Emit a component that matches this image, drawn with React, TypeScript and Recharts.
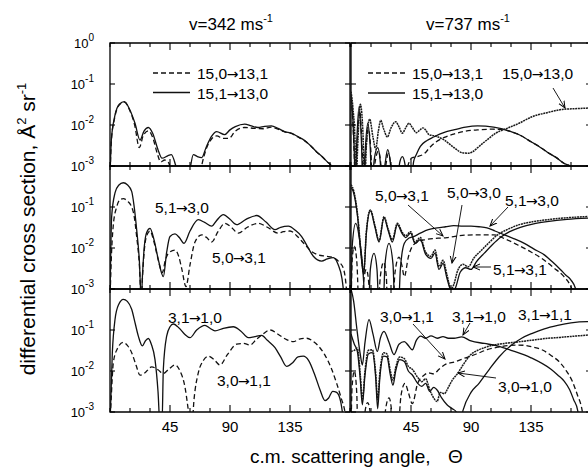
import React from 'react';
import { LineChart, Line, XAxis, YAxis, ReferenceArea } from 'recharts';

const FONT = '"Liberation Sans", Arial, Helvetica, sans-serif';
const PW = 240; // plot width, px
const PH = 123; // plot height, px (three decades)

const ANGLE_TICKS = [0, 15, 30, 45, 60, 75, 90, 105, 120, 135, 150, 165, 180];
const MAJOR_ANGLES = [45, 90, 135];
const DECADES = [0.001, 0.01, 0.1, 1];

// [angle (deg), cross section]
// v = 342 m/s
const v342_15_0_to_13_1 = [
  [0, 5e-4], [1, 4e-3], [3.5, 1.5e-2], [7, 3.1e-2], [10.8, 3.6e-2], [14.5, 2.4e-2], [18.5, 1.0e-2], [22, 2.8e-3],
  [25, 5.6e-3], [28.75, 7.2e-3], [32, 5e-3], [35.5, 2e-3], [38, 1.26e-3], [41, 1.4e-3], [44, 1.2e-3], [46, 7e-4],
  [50, 3e-4], [66, 3e-4], [69, 1.1e-3], [72, 2.5e-3], [76, 4.5e-3], [80, 5.4e-3], [85, 4.7e-3], [89, 4.7e-3],
  [94, 7.1e-3], [101, 8.7e-3], [108, 8.3e-3], [115, 8.1e-3], [121, 8.9e-3], [126, 7.9e-3], [131, 6.8e-3],
  [136, 6.2e-3], [141, 5.1e-3], [146, 4.1e-3], [151, 3.0e-3], [155, 2.2e-3], [159, 1.7e-3], [163, 1.25e-3],
  [166, 1e-3], [168, 5e-4],
];
const v342_15_1_to_13_0 = [
  [0, 5e-4], [1, 4.3e-3], [3.5, 1.6e-2], [7, 3.2e-2], [10.8, 3.7e-2], [14.5, 2.5e-2], [18.75, 1.1e-2], [22.5, 4.3e-3],
  [25.5, 7.1e-3], [28.75, 8.7e-3], [32, 6.3e-3], [36, 2.5e-3], [39, 1.55e-3], [43, 1.75e-3], [46, 1.9e-3],
  [49, 1.1e-3], [51, 6e-4], [53, 3e-4], [58, 3e-4], [60, 8e-4], [62.5, 1.9e-3], [65.5, 1.7e-3], [68.75, 1.6e-3],
  [72, 2.8e-3], [76, 5.2e-3], [80, 6.9e-3], [86, 5.8e-3], [90, 7.6e-3], [94, 9.1e-3], [101, 1.05e-2], [106, 9.5e-3],
  [111, 8.7e-3], [116, 9.3e-3], [121, 9.5e-3], [126, 8.3e-3], [131, 6.9e-3], [136, 6.3e-3], [141, 5.2e-3],
  [146, 4.2e-3], [151, 3.0e-3], [155, 2.2e-3], [159, 1.7e-3], [163, 1.26e-3], [166, 1e-3], [168, 5e-4],
];
const v342_5_1_to_3_0 = [
  [0, 5e-4], [1.25, 5.9e-2], [3.75, 2.2e-1], [6.5, 3.4e-1], [10, 3.9e-1], [13, 3.5e-1], [16.25, 2.4e-1], [18, 1.1e-1],
  [20, 2.8e-2], [22, 5e-3], [23.5, 5e-4], [24.3, 2e-3], [25.75, 1.1e-2], [27.5, 2.4e-2], [30, 3e-2], [33, 1.6e-2],
  [36.25, 5.2e-3], [40, 2e-3], [42.5, 7.9e-3], [45, 1.9e-2], [48.75, 2.2e-2], [52, 1.8e-2], [55.5, 1.3e-2],
  [60, 2.6e-2], [66.25, 4.9e-2], [71, 4.2e-2], [76.25, 3.4e-2], [80, 4.7e-2], [85, 6.5e-2], [90, 5e-2], [95, 3.7e-2],
  [102, 5e-2], [110, 6.2e-2], [117, 4.3e-2], [123.75, 2.8e-2], [128, 3.2e-2], [133.75, 3.4e-2], [139, 2.7e-2],
  [143.75, 1.9e-2], [148, 1.1e-2], [152.5, 6.3e-3], [158.75, 4.8e-3], [163, 5.4e-3], [167.5, 5.8e-3], [171, 4e-3],
  [174, 1.8e-3], [176, 5e-4],
];
const v342_5_0_to_3_1 = [
  [0, 5e-4], [0.8, 3.8e-3], [2.5, 3.7e-2], [5, 1e-1], [7.5, 1.5e-1], [10, 1.6e-1], [13, 1.4e-1], [16.25, 1e-1],
  [18, 6.3e-2], [20, 1.9e-2], [22, 4e-3], [23.5, 5e-4], [24.3, 1.8e-3], [25.75, 9e-3], [27.5, 2e-2], [30, 2.6e-2],
  [33, 1.4e-2], [36.25, 5e-3], [39.25, 2.5e-3], [41.5, 5e-3], [43.75, 7.4e-3], [48.75, 8.9e-3], [51.5, 6.3e-3],
  [53.75, 3.2e-3], [57, 1.15e-3], [60, 3.9e-3], [63.75, 1.4e-2], [68.75, 2.1e-2], [72.5, 1.8e-2], [76.25, 1.4e-2],
  [81, 2.5e-2], [86.25, 4e-2], [91, 3.2e-2], [96.25, 2.3e-2], [103, 3.2e-2], [111.25, 4e-2], [118, 3.2e-2],
  [126.25, 2.3e-2], [130, 2.5e-2], [135, 2.6e-2], [140, 2e-2], [146.25, 1.2e-2], [151, 8.3e-3], [156.25, 6.8e-3],
  [162, 6.3e-3], [167.5, 5.8e-3], [172, 4.5e-3], [175, 3.2e-3], [177, 1.3e-3], [178, 5e-4],
];
const v342_3_1_to_1_0 = [
  [0, 5e-4], [1.75, 2.8e-2], [3.75, 1.8e-1], [6.5, 4.2e-1], [10, 5.6e-1], [13, 5e-1], [16.25, 3.2e-1], [19, 1.4e-1],
  [21.25, 7.1e-2], [24.25, 4.1e-2], [26.5, 5.4e-2], [28.75, 6.2e-2], [31, 4.5e-2], [33.75, 1.9e-2], [36, 3.2e-3],
  [37.5, 5e-4], [39, 5e-4], [40, 1.1e-2], [42.5, 7.1e-2], [45, 1.2e-1], [47.5, 1.4e-1], [52, 1.1e-1], [56, 7.9e-2],
  [60, 6.5e-2], [65, 1e-1], [71.25, 1.3e-1], [75, 1.1e-1], [78.75, 9.5e-2], [85, 1.1e-1], [92.5, 1.2e-1],
  [98, 9.5e-2], [103.75, 6.5e-2], [108, 6.8e-2], [113.75, 7.4e-2], [118, 5.6e-2], [123.75, 3.7e-2], [128, 2.2e-2],
  [132.5, 1.3e-2], [137, 1.6e-2], [141, 2.2e-2], [145, 2.3e-2], [149, 1.8e-2], [153.75, 7.8e-3], [157.5, 3.5e-3],
  [161.25, 1.9e-3], [164, 2.2e-3], [167, 3.2e-3], [170, 3e-3], [173, 1.8e-3], [175.5, 5e-4],
];
const v342_3_0_to_1_1 = [
  [0, 5e-4], [1, 2.5e-3], [2.5, 1.6e-2], [5.5, 3.5e-2], [10, 5e-2], [13, 4.2e-2], [16.25, 2.8e-2], [19.5, 1.4e-2],
  [22.5, 7.9e-3], [26, 8.9e-3], [31.25, 1.26e-2], [36, 1.07e-2], [40, 8.7e-3], [44, 1.1e-2], [48.75, 1.4e-2],
  [52.5, 1e-2], [56.25, 4e-3], [58.5, 1.26e-3], [60, 5e-4], [61.5, 5e-4], [63, 2e-3], [66.25, 9.1e-3], [70, 1.8e-2],
  [73.75, 2.3e-2], [78, 1.9e-2], [82.5, 1.4e-2], [88, 2.5e-2], [95, 4.5e-2], [100, 4.7e-2], [105, 4.3e-2],
  [110, 6e-2], [114, 7.6e-2], [120, 1e-1], [126, 7.9e-2], [132.5, 5.8e-2], [137.5, 5.2e-2], [142, 6e-2],
  [147.5, 6.3e-2], [152, 5.4e-2], [156.25, 4.1e-2], [161, 2.5e-2], [166.25, 1.1e-2], [170, 5e-3], [173.75, 2e-3],
  [176, 1.1e-3], [177.5, 5e-4],
];

// v = 737 m/s
const v737_15_0_to_13_1 = [
  [0, 4.5e-2], [1.2, 1.5e-2], [2.6, 1.2e-3], [3.2, 3e-4], [4.5, 3e-3], [6.5, 2.2e-2], [8.3, 3e-3], [9.5, 3e-4],
  [11, 2e-3], [13, 8e-3], [15, 2e-3], [16, 3e-4], [18, 1.2e-3], [20.5, 2.3e-3], [22.5, 1e-3], [23.5, 3e-4],
  [26, 1e-3], [28, 2e-3], [30, 1e-3], [31.5, 3e-4], [41, 3e-4], [43, 1.1e-3], [46, 1.6e-3], [50, 1.7e-3],
  [55, 2e-3], [59, 2.8e-3], [63, 3.7e-3], [70, 5e-3], [77, 6e-3], [86, 7.1e-3], [95, 7.6e-3], [105, 7.9e-3],
  [113, 7.8e-3], [120, 6.9e-3], [128, 5.4e-3], [135, 3.9e-3], [141, 3e-3], [147, 2.2e-3], [154, 1.6e-3],
  [160, 1.15e-3], [164, 1e-3], [166, 5e-4],
];
const v737_15_1_to_13_0 = [
  [0, 5.5e-2], [1.2, 1.8e-2], [2.6, 1.5e-3], [3.2, 3e-4], [4.2, 3e-3], [6, 2.8e-2], [7.8, 4e-3], [9, 3e-4],
  [10.5, 2e-3], [12.5, 1.1e-2], [14.5, 2.5e-3], [15.5, 3e-4], [17.5, 1.5e-3], [20, 2.8e-3], [22, 1.2e-3],
  [23, 3e-4], [25.5, 1.1e-3], [27.5, 2.5e-3], [29.5, 1.2e-3], [31, 3e-4], [34.5, 3e-4], [36.5, 1.2e-3],
  [38.5, 1.7e-3], [40.5, 1.1e-3], [42, 3e-4], [45, 4e-4], [47, 1.3e-3], [49, 1.9e-3], [52, 3e-3], [57, 4.2e-3],
  [62, 5.1e-3], [70, 6.6e-3], [77, 7.6e-3], [86, 8.9e-3], [95, 9.5e-3], [107, 8.9e-3], [120, 6.9e-3],
  [128, 5.4e-3], [135, 3.9e-3], [141, 3e-3], [147, 2.2e-3], [154, 1.6e-3], [160, 1.15e-3], [164, 1e-3], [166, 5e-4],
];
const v737_15_0_to_13_0 = [
  [0, 6.5e-2], [1.5, 2.5e-2], [3, 4e-3], [3.8, 3e-4], [5, 3e-3], [7, 3.2e-2], [9, 6e-3], [10.2, 3e-4],
  [11.5, 3e-3], [14, 1.4e-2], [16.5, 5e-3], [18.5, 2.6e-3], [20.5, 7e-3], [22.3, 1.3e-2], [24.5, 8e-3],
  [27.25, 5.1e-3], [30, 8.5e-3], [33.5, 1.2e-2], [36, 9e-3], [38.5, 6.3e-3], [41, 8.5e-3], [43.5, 1.1e-2],
  [46, 8.7e-3], [49, 6.5e-3], [51.5, 7.5e-3], [54, 8.5e-3], [56, 7.5e-3], [58.5, 5.8e-3], [62, 5.5e-3],
  [66, 5e-3], [70, 4.3e-3], [73.5, 3.5e-3], [78, 2.7e-3], [83.5, 2.1e-3], [88, 2.05e-3], [91, 2.2e-3],
  [95, 2.8e-3], [98.5, 3.5e-3], [103, 4.6e-3], [108.5, 6.3e-3], [117, 8.3e-3], [126, 1.1e-2], [136, 1.6e-2],
  [147, 2.0e-2], [158.5, 2.4e-2], [168, 2.5e-2], [180, 2.6e-2],
];
const v737_5_0_to_3_1 = [
  [0, 3e-4], [1, 6e-3], [2.5, 1.1e-2], [4.5, 4e-3], [6, 3e-4], [8, 3e-4], [9.5, 1.5e-3], [11.5, 3e-3],
  [13.5, 1.2e-3], [14.5, 3e-4], [20, 3e-4], [22, 2e-3], [24.5, 4.5e-3], [26.5, 2e-3], [27.5, 3e-4], [31, 3e-4],
  [33, 2.5e-3], [36, 6e-3], [38, 4e-3], [40, 2e-3], [43, 6e-3], [46, 1.1e-2], [50, 1.4e-2], [56, 1.6e-2],
  [62, 1.7e-2], [67.5, 1.75e-2], [72, 1.8e-2], [77, 1.9e-2], [85, 2.05e-2], [95, 2.1e-2], [107, 2.1e-2],
  [115, 1.7e-2], [124.75, 1.2e-2], [135, 8e-3], [144.75, 5.1e-3], [152, 3.3e-3], [159.75, 2e-3], [164, 1.3e-3],
  [166, 9e-4], [167, 4e-4],
];
const v737_5_1_to_3_0 = [
  [0, 3e-4], [0.8, 1e-2], [3.5, 4e-2], [6.5, 1.5e-2], [9.5, 1.5e-3], [10.5, 3e-4], [13, 3e-4], [14.5, 3e-3],
  [17.25, 7.4e-3], [19.5, 3e-3], [21, 3e-4], [24, 3e-4], [25.5, 4e-3], [28.5, 1.3e-2], [31.5, 4e-3], [33, 3e-4],
  [35.5, 3e-4], [37, 3e-3], [40, 1.3e-2], [43.5, 1.75e-2], [47, 1.9e-2], [52, 2.3e-2], [58, 2.8e-2],
  [64.75, 3.1e-2], [71, 3.3e-2], [77, 3.5e-2], [84, 3.4e-2], [90, 3.4e-2], [96, 3.3e-2], [102, 3.1e-2],
  [108, 2.6e-2], [115, 2.1e-2], [122, 1.7e-2], [130, 1.3e-2], [137, 9.5e-3], [145, 6.8e-3], [151, 4.6e-3],
  [157, 3e-3], [161, 2.2e-3], [165, 1.65e-3], [168.5, 1e-3], [170, 5e-4],
];
const v737_5_0_to_3_0 = [
  [0, 3.5e-1], [2, 2.5e-1], [5, 6.3e-2], [7.5, 8e-3], [9.5, 2.5e-3], [11.5, 2.5e-2], [14.5, 8.5e-2], [18, 3.5e-2],
  [21, 1.5e-2], [24.75, 5.8e-2], [28, 2.8e-2], [31, 1.6e-2], [34.75, 4e-2], [38.5, 2.4e-2], [41, 2e-2],
  [44.75, 2.5e-2], [48, 1.4e-2], [52, 1.8e-2], [56, 7.9e-3], [60, 6.3e-3], [63, 8.9e-3], [66, 3.5e-3], [69, 5e-3],
  [72, 2.2e-3], [75, 1e-3], [77, 1.26e-3], [80, 2.8e-3], [84, 4e-3], [88, 3.5e-3], [92, 5.6e-3], [98, 8.9e-3],
  [104, 1.4e-2], [110, 2.1e-2], [117, 2.8e-2], [125, 3.6e-2], [135, 4.3e-2], [145, 4.8e-2], [160, 5.4e-2],
  [180, 5.9e-2],
];
const v737_5_1_to_3_1 = [
  [0, 3e-1], [2, 2.2e-1], [5, 5.5e-2], [7.5, 7e-3], [9.5, 2.2e-3], [11.5, 2.2e-2], [14.5, 8e-2], [18, 3.2e-2],
  [21, 1.4e-2], [24.75, 5.4e-2], [28, 2.6e-2], [31, 1.4e-2], [34.75, 3.7e-2], [38.5, 2.2e-2], [41, 1.8e-2],
  [44.75, 2.3e-2], [48, 1.3e-2], [52, 1.6e-2], [56, 7e-3], [60, 5.6e-3], [63, 7.5e-3], [66, 3e-3], [69, 4.2e-3],
  [72, 1.8e-3], [76, 8e-4], [78.5, 1.1e-3], [82, 2.6e-3], [86, 3.3e-3], [90, 3e-3], [94, 4.6e-3], [100, 7.5e-3],
  [106, 1.2e-2], [112, 1.8e-2], [119, 2.5e-2], [127, 3.2e-2], [137, 3.9e-2], [147, 4.4e-2], [162, 5e-2],
  [180, 5.4e-2],
];
const v737_3_0_to_1_1 = [
  [0, 3e-4], [0.8, 4e-3], [2.5, 1e-2], [4.3, 3e-3], [5.2, 3e-4], [9, 3e-4], [10.5, 1e-3], [12.5, 1.7e-3],
  [14.5, 9e-4], [15.5, 3e-4], [24, 3e-4], [26, 1.2e-3], [28.5, 2.2e-3], [30.5, 1e-3], [31.5, 3e-4], [35, 3e-4],
  [37.5, 2.5e-3], [40.5, 5e-3], [43, 3e-3], [46, 1.6e-3], [50, 5e-3], [55, 8e-3], [58, 9e-3], [62, 8.5e-3],
  [66, 1.1e-2], [70, 1.4e-2], [78.5, 1.7e-2], [86, 2.1e-2], [94, 2.6e-2], [102, 3.3e-2], [110, 3.8e-2],
  [118, 4.2e-2], [125, 4.3e-2], [131, 4.2e-2], [137, 3.8e-2], [144, 3.2e-2], [150, 2.4e-2], [156, 1.7e-2],
  [161, 1.07e-2], [166, 5.6e-3], [170, 2.5e-3], [173, 1.26e-3], [175, 5e-4],
];
const v737_3_1_to_1_0 = [
  [0, 1], [2, 5e-1], [4.5, 1e-1], [7, 2.5e-2], [8.5, 1.4e-2], [10.5, 5e-2], [13.5, 1.8e-1], [16.5, 7.9e-2],
  [19.75, 3e-2], [22, 6.3e-2], [24.75, 9.3e-2], [28.5, 5e-2], [32.25, 2.5e-2], [36, 4.5e-2], [40, 5.2e-2],
  [43, 4.2e-2], [46, 3.3e-2], [49, 5.6e-2], [52.25, 7.1e-2], [56, 6.3e-2], [60, 7.2e-2], [64.75, 6.3e-2],
  [69, 6.9e-2], [73, 6.3e-2], [77.25, 6.3e-2], [83, 6.8e-2], [90, 5.4e-2], [100, 4.7e-2], [111, 4e-2],
  [120, 3.2e-2], [135, 2.1e-2], [150, 1.1e-2], [155, 8e-3], [160, 5.6e-3], [164, 3.5e-3], [167, 2e-3],
  [170, 1.1e-3], [171.5, 5e-4],
];
const v737_3_0_to_1_0 = [
  [0, 3e-2], [2.5, 3.2e-2], [4.75, 3.6e-2], [7, 8e-3], [8.5, 2e-3], [10.5, 1e-2], [13, 3.2e-2], [16, 3.3e-2],
  [18.5, 9e-3], [20, 2e-3], [21.5, 8e-3], [24.5, 2.8e-2], [27, 2.6e-2], [29.5, 1e-2], [31.5, 6e-3], [33.5, 1.2e-2],
  [36.5, 2.2e-2], [40, 2e-2], [43, 1.3e-2], [46, 1.1e-2], [50, 7e-3], [53, 5.5e-3], [56, 6.5e-3], [59, 3.5e-3],
  [62, 2.2e-3], [64.5, 1.8e-3], [67, 3e-3], [70, 2.8e-3], [73, 4e-3], [76, 6e-3], [79.75, 8.5e-3], [84, 1.4e-2],
  [89.75, 2.5e-2], [95, 3.2e-2], [100, 3.7e-2], [107, 4.3e-2], [115, 4.7e-2], [125, 5.1e-2], [135, 5.6e-2],
  [146, 6.2e-2], [157, 6.6e-2], [168, 7.1e-2], [180, 7.6e-2],
];
const v737_3_1_to_1_1 = [
  [0, 8e-2], [2.5, 4.5e-2], [4.75, 3e-2], [7, 6e-3], [8.5, 1.5e-3], [10.5, 8e-3], [13, 2.6e-2], [16, 2.8e-2],
  [18.5, 7e-3], [20, 1.2e-3], [21.5, 6e-3], [24.5, 2.3e-2], [27, 2.2e-2], [29.5, 8e-3], [31.5, 4.5e-3], [33.5, 1e-2],
  [36.5, 1.9e-2], [40, 1.7e-2], [43, 1e-2], [46, 8e-3], [50, 5e-3], [53, 4.2e-3], [56, 5e-3], [59, 3.2e-3],
  [62, 4e-3], [65, 3.3e-3], [68, 2.2e-3], [72, 1.5e-3], [76, 1.2e-3], [79, 1e-3], [81.5, 5e-4], [84, 1.1e-3],
  [90, 3e-3], [96, 5e-3], [103.75, 1.1e-2], [111, 2.2e-2], [120, 4.2e-2], [128, 6.3e-2], [136, 8.3e-2],
  [145, 1.07e-1], [155, 1.3e-1], [165, 1.5e-1], [177, 1.6e-1], [180, 1.6e-1],
];

type Kind = 'solid' | 'dashed' | 'dotted';
type Series = { rows: number[][]; kind: Kind };

const toPoints = (rows: number[][]) => rows.map(([a, v]) => ({ a, v }));

const lineStyle: Record<Kind, { stroke: string; strokeWidth: number; strokeDasharray?: string }> = {
  solid: { stroke: '#111', strokeWidth: 1.3 },
  dashed: { stroke: '#111', strokeWidth: 1.3, strokeDasharray: '5 3' },
  dotted: { stroke: '#1a1a1a', strokeWidth: 1.5, strokeDasharray: '2 0.7' },
};

interface PanelProps {
  left: number;
  top: number;
  series: Series[];
  yLabels: number[];
  xLabels?: boolean;
}

function Panel({ left, top, series, yLabels, xLabels = false }: PanelProps) {
  const ml = yLabels.length ? 50 : 6;
  const mt = 14;
  const xh = xLabels ? 30 : 10;
  const bottom = mt + PH;

  const angleTick = (p: any) => {
    const x = p.x;
    const v = p.payload.value;
    const major = MAJOR_ANGLES.includes(v);
    const len = major ? 7 : 4;
    return (
      <g>
        <line x1={x} x2={x} y1={bottom} y2={bottom - len} stroke="#000" strokeWidth={1.1} />
        <line x1={x} x2={x} y1={mt} y2={mt + len} stroke="#000" strokeWidth={1.1} />
        {xLabels && major && (
          <text x={x} y={bottom + 20} textAnchor="middle" fontSize={15} fontFamily={FONT} fill="#000">
            {v}
          </text>
        )}
      </g>
    );
  };

  const decadeTick = (p: any) => {
    const y = p.y;
    const v = p.payload.value;
    const exp = Math.round(Math.log10(v));
    return (
      <g>
        <line x1={ml} x2={ml + 5} y1={y} y2={y} stroke="#000" strokeWidth={1.1} />
        <line x1={ml + PW} x2={ml + PW - 5} y1={y} y2={y} stroke="#000" strokeWidth={1.1} />
        {yLabels.includes(v) && (
          <text x={ml - 16} y={y + 5} textAnchor="end" fontSize={13} fontFamily={FONT} fill="#000">
            10
            <tspan dy={-7} fontSize={10}>
              {String(exp)}
            </tspan>
          </text>
        )}
      </g>
    );
  };

  return (
    <div style={{ position: 'absolute', left: left - ml, top: top - mt }}>
      <LineChart width={ml + PW + 8} height={mt + PH + xh} margin={{ top: mt, right: 8, left: 0, bottom: 0 }}>
        <XAxis
          type="number"
          dataKey="a"
          domain={[0, 180]}
          allowDataOverflow
          ticks={ANGLE_TICKS}
          interval={0}
          height={xh}
          tickSize={0}
          tickMargin={0}
          axisLine={false}
          tickLine={false}
          tick={angleTick}
        />
        <YAxis
          type="number"
          scale="log"
          domain={[0.001, 1]}
          allowDataOverflow
          ticks={DECADES}
          interval={0}
          width={ml}
          tickSize={0}
          tickMargin={0}
          axisLine={false}
          tickLine={false}
          tick={decadeTick}
        />
        <ReferenceArea x1={0} x2={180} y1={0.001} y2={1} fill="none" stroke="#000" strokeWidth={1.3} />
        {series.map((s, i) => (
          <Line
            key={i}
            data={toPoints(s.rows)}
            dataKey="v"
            type="monotone"
            dot={false}
            activeDot={false}
            isAnimationActive={false}
            {...lineStyle[s.kind]}
          />
        ))}
      </LineChart>
    </div>
  );
}

const LEFT_X = 110;
const RIGHT_X = 351;
const ROW_Y = [43, 166, 289];

// transition label such as "5,1→3,0"; the arrow glyph comes from DejaVu Sans
function Label({ x, y, children }: { x: number; y: number; children: string }) {
  const [from, to] = children.split('→');
  return (
    <text x={x} y={y} fontSize={15.5} fontFamily={FONT} fill="#000">
      {from}
      <tspan fontFamily='"DejaVu Sans", sans-serif' fontSize={14} dx={-0.5}>
        →
      </tspan>
      <tspan dx={-0.5}>{to}</tspan>
    </text>
  );
}

function Arrow({ x1, y1, x2, y2 }: { x1: number; y1: number; x2: number; y2: number }) {
  return <line x1={x1} y1={y1} x2={x2} y2={y2} stroke="#000" strokeWidth={0.9} markerEnd="url(#ah)" />;
}

export default function App() {
  return (
    <div
      style={{
        position: 'fixed',
        left: 0,
        top: 0,
        width: 588,
        height: 472,
        overflow: 'hidden',
        background: '#fff',
      }}
    >
      <Panel
        left={LEFT_X}
        top={ROW_Y[0]}
        yLabels={[0.001, 0.01, 0.1, 1]}
        series={[
          { rows: v342_15_0_to_13_1, kind: 'dashed' },
          { rows: v342_15_1_to_13_0, kind: 'solid' },
        ]}
      />
      <Panel
        left={LEFT_X}
        top={ROW_Y[1]}
        yLabels={[0.001, 0.01, 0.1]}
        series={[
          { rows: v342_5_0_to_3_1, kind: 'dashed' },
          { rows: v342_5_1_to_3_0, kind: 'solid' },
        ]}
      />
      <Panel
        left={LEFT_X}
        top={ROW_Y[2]}
        yLabels={[0.001, 0.01, 0.1]}
        xLabels
        series={[
          { rows: v342_3_0_to_1_1, kind: 'dashed' },
          { rows: v342_3_1_to_1_0, kind: 'solid' },
        ]}
      />
      <Panel
        left={RIGHT_X}
        top={ROW_Y[0]}
        yLabels={[]}
        series={[
          { rows: v737_15_0_to_13_1, kind: 'dashed' },
          { rows: v737_15_1_to_13_0, kind: 'solid' },
          { rows: v737_15_0_to_13_0, kind: 'dotted' },
        ]}
      />
      <Panel
        left={RIGHT_X}
        top={ROW_Y[1]}
        yLabels={[]}
        series={[
          { rows: v737_5_0_to_3_1, kind: 'dashed' },
          { rows: v737_5_1_to_3_0, kind: 'solid' },
          { rows: v737_5_0_to_3_0, kind: 'dotted' },
          { rows: v737_5_1_to_3_1, kind: 'solid' },
        ]}
      />
      <Panel
        left={RIGHT_X}
        top={ROW_Y[2]}
        yLabels={[]}
        xLabels
        series={[
          { rows: v737_3_0_to_1_1, kind: 'dashed' },
          { rows: v737_3_1_to_1_0, kind: 'solid' },
          { rows: v737_3_0_to_1_0, kind: 'dotted' },
          { rows: v737_3_1_to_1_1, kind: 'solid' },
        ]}
      />

      <svg width={588} height={472} style={{ position: 'absolute', left: 0, top: 0, pointerEvents: 'none' }}>
        <defs>
          <marker id="ah" markerWidth={8} markerHeight={8} refX={7} refY={4} orient="auto" markerUnits="userSpaceOnUse">
            <path d="M0,1 L7,4 L0,7" fill="none" stroke="#000" strokeWidth={1} />
          </marker>
        </defs>

        {/* column titles */}
        <text x={231} y={30} textAnchor="middle" fontSize={17} fontFamily={FONT}>
          v=342 ms<tspan dy={-8} fontSize={11}>-1</tspan>
        </text>
        <text x={468} y={30} textAnchor="middle" fontSize={17} fontFamily={FONT}>
          v=737 ms<tspan dy={-8} fontSize={11}>-1</tspan>
        </text>

        {/* axis titles */}
        <text transform="rotate(-90, 35, 229)" x={35} y={229} textAnchor="middle" fontSize={21} fontFamily={FONT}>
          differential cross section, Å<tspan dy={-9} fontSize={13}>2</tspan>
          <tspan dy={9}> sr</tspan>
          <tspan dy={-9} fontSize={13}>-1</tspan>
        </text>
        <text x={250} y={463} fontSize={19} fontFamily={FONT}>
          c.m. scattering angle,
        </text>
        <text x={448} y={463} fontSize={19} fontFamily={FONT}>
          Θ
        </text>

        {/* top-left legend */}
        <line x1={153} x2={190} y1={73} y2={73} stroke="#111" strokeWidth={1.3} strokeDasharray="5 3" />
        <Label x={197} y={79}>15,0→13,1</Label>
        <line x1={153} x2={190} y1={92.5} y2={92.5} stroke="#111" strokeWidth={1.3} />
        <Label x={197} y={99}>15,1→13,0</Label>

        {/* top-right legend */}
        <line x1={368} x2={405} y1={73} y2={73} stroke="#111" strokeWidth={1.3} strokeDasharray="5 3" />
        <Label x={412} y={79}>15,0→13,1</Label>
        <line x1={368} x2={405} y1={93} y2={93} stroke="#111" strokeWidth={1.3} />
        <Label x={412} y={99}>15,1→13,0</Label>
        <Label x={502} y={79}>15,0→13,0</Label>
        <Arrow x1={553} y1={88} x2={565} y2={108} />

        {/* middle-left */}
        <Label x={155} y={213}>5,1→3,0</Label>
        <Label x={212} y={263}>5,0→3,1</Label>

        {/* middle-right */}
        <Label x={375} y={201}>5,0→3,1</Label>
        <Label x={447} y={198}>5,0→3,0</Label>
        <Label x={505} y={206}>5,1→3,0</Label>
        <Label x={493} y={275}>5,1→3,1</Label>
        <Arrow x1={408} y1={205} x2={443} y2={236} />
        <Arrow x1={462} y1={205} x2={452} y2={263} />
        <Arrow x1={508} y1={207} x2={490} y2={226} />
        <Arrow x1={491} y1={267} x2={473} y2={267} />

        {/* bottom-left */}
        <Label x={168} y={323}>3,1→1,0</Label>
        <Label x={217} y={386}>3,0→1,1</Label>

        {/* bottom-right */}
        <Label x={380} y={322}>3,0→1,1</Label>
        <Label x={452} y={322}>3,1→1,0</Label>
        <Label x={518} y={320}>3,1→1,1</Label>
        <Label x={498} y={392}>3,0→1,0</Label>
        <Arrow x1={413} y1={324} x2={445} y2={359} />
        <Arrow x1={470} y1={323} x2={463} y2={335} />
        <Arrow x1={496} y1={378} x2={458} y2={373} />
      </svg>
    </div>
  );
}
